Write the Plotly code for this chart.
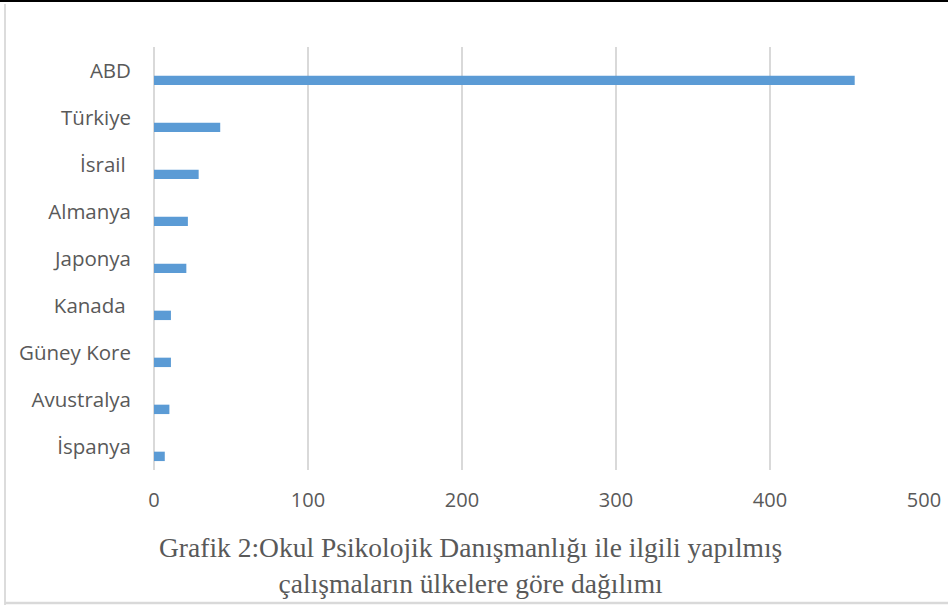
import plotly.graph_objects as go

countries = ["ABD", "Türkiye", "İsrail ", "Almanya", "Japonya", "Kanada ", "Güney Kore", "Avustralya", "İspanya"]
counts = [455, 43, 29, 22, 21, 11, 11, 10, 7]
x_ticks = [0, 100, 200, 300, 400, 500]
caption = "Grafik 2:Okul Psikolojik Danışmanlığı ile ilgili yapılmış<br>çalışmaların ülkelere göre dağılımı"

W, H = 948, 605
L, R, T, B = 154, 24, 47, 135
pw, ph = W - L - R, H - T - B

def px(x):
    return (x - L) / pw

def py(y):
    return (H - B - y) / ph

fig = go.Figure()
fig.add_trace(go.Bar(
    x=counts, y=countries, orientation="h",
    marker=dict(color="#5B9BD5", line=dict(width=0)),
    width=0.2, offset=0.11,
    hoverinfo="x+y",
))

shapes = [
    dict(type="line", xref="paper", yref="paper", x0=px(0), x1=px(W), y0=py(1), y1=py(1),
         line=dict(color="#000000", width=2)),
    dict(type="line", xref="paper", yref="paper", x0=px(5), x1=px(5), y0=py(4), y1=py(H),
         line=dict(color="#d0d0d0", width=1.5)),
    dict(type="line", xref="paper", yref="paper", x0=px(5), x1=px(W), y0=py(603), y1=py(603),
         line=dict(color="#d9d9d9", width=2.5)),
]

fig.update_layout(
    width=W, height=H,
    margin=dict(l=L, r=R, t=T, b=B, pad=0),
    paper_bgcolor="white", plot_bgcolor="white",
    showlegend=False,
    font=dict(family="Open Sans, sans-serif", color="#595959", size=20.5),
    xaxis=dict(range=[0, 500], tickvals=x_ticks, showgrid=True, gridcolor="#d9d9d9",
               gridwidth=1.5, zeroline=True, zerolinecolor="#d9d9d9", zerolinewidth=1.5,
               showline=False, ticks="", tickfont=dict(size=20, color="#595959"),
               ticklabelstandoff=16, automargin=False, fixedrange=True),
    yaxis=dict(type="category", categoryorder="array", categoryarray=countries,
               range=[8.5, -0.5], showgrid=False, zeroline=False, showline=False, ticks="",
               tickfont=dict(size=20.5, color="#595959"), ticklabelstandoff=22,
               automargin=False),
    shapes=shapes,
    annotations=[dict(
        text=caption, xref="paper", yref="paper", x=px(470), y=py(565),
        xanchor="center", yanchor="middle", showarrow=False, align="center",
        font=dict(family="Liberation Serif, serif", size=27.5, color="#595959"),
    )],
)

fig.write_html("out.html", config={"displayModeBar": False},
               post_script="document.body.style.margin='0';")
